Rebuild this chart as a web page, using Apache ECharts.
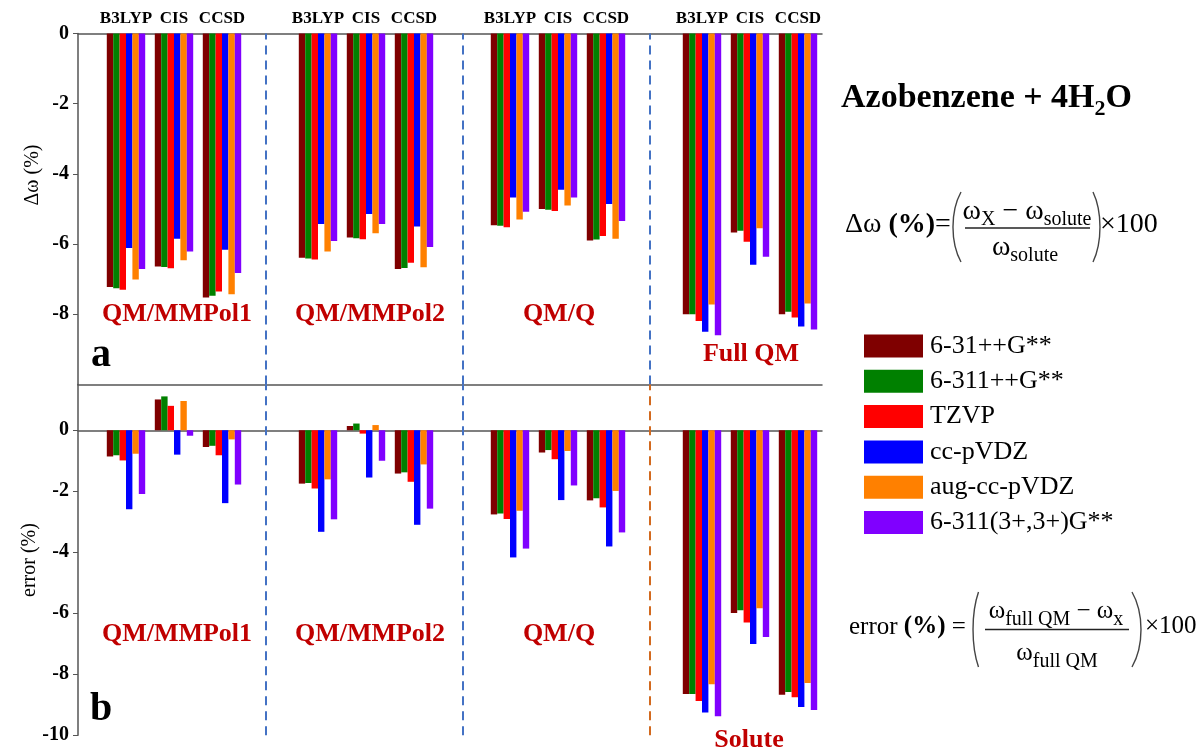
<!DOCTYPE html>
<html>
<head>
<meta charset="utf-8">
<script src="https://cdn.jsdelivr.net/npm/echarts@6/dist/echarts.min.js"></script>
<style>
  html, body { margin: 0; padding: 0; background: #ffffff; }
  #chart { width: 1201px; height: 750px; }
</style>
</head>
<body>
<div id="chart"></div>
<script>
// Basis sets (legend) and their colours
const basisSets = ['6-31++G**', '6-311++G**', 'TZVP', 'cc-pVDZ', 'aug-cc-pVDZ', '6-311(3+,3+)G**'];
const basisColors = ['#7F0000', '#008000', '#FF0000', '#0000FF', '#FF8000', '#8000FF'];

// Electronic-structure methods inside each solvation-model block
const methods = ['B3LYP', 'CIS', 'CCSD'];
const modelsTop = ['QM/MMPol1', 'QM/MMPol2', 'QM/Q', 'Full QM'];
const modelsBottom = ['QM/MMPol1', 'QM/MMPol2', 'QM/Q', 'Solute'];

// Panel a: frequency shift Δω (%) — order: [model][method] flattened
const shift_631 = [-7.22, -6.64, -7.52, -6.39, -5.81, -6.71, -5.46, -5.00, -5.90, -8.00, -5.67, -8.00];
const shift_6311 = [-7.26, -6.65, -7.47, -6.41, -5.83, -6.68, -5.48, -5.02, -5.87, -8.00, -5.62, -7.93];
const shift_TZVP = [-7.30, -6.69, -7.35, -6.44, -5.86, -6.53, -5.52, -5.06, -5.77, -8.19, -5.93, -8.09];
const shift_ccpVDZ = [-6.11, -5.85, -6.16, -5.43, -5.14, -5.50, -4.67, -4.45, -4.86, -8.50, -6.59, -8.35];
const shift_augccpVDZ = [-7.01, -6.46, -7.43, -6.21, -5.69, -6.66, -5.30, -4.90, -5.85, -7.72, -5.55, -7.69];
const shift_6311_3p = [-6.71, -6.21, -6.82, -5.91, -5.43, -6.08, -5.08, -4.67, -5.34, -8.60, -6.36, -8.43];

// Panel b: error (%) with respect to the full QM result
const error_631 = [-0.86, 1.01, -0.55, -1.75, 0.14, -1.42, -2.76, -0.73, -2.30, -8.65, -5.99, -8.67];
const error_6311 = [-0.82, 1.11, -0.51, -1.73, 0.22, -1.38, -2.73, -0.65, -2.23, -8.65, -5.90, -8.58];
const error_TZVP = [-0.99, 0.80, -0.82, -1.91, -0.11, -1.69, -2.91, -0.95, -2.53, -8.88, -6.30, -8.75];
const error_ccpVDZ = [-2.59, -0.80, -2.39, -3.33, -1.55, -3.10, -4.17, -2.29, -3.81, -9.25, -7.01, -9.07];
const error_augccpVDZ = [-0.77, 0.96, -0.30, -1.61, 0.17, -1.12, -2.64, -0.68, -1.99, -8.33, -5.84, -8.29];
const error_6311_3p = [-2.09, -0.18, -1.78, -2.92, -1.00, -2.57, -3.88, -1.81, -3.35, -9.38, -6.78, -9.17];

// Axis ticks
const shiftTicks = [0, -2, -4, -6, -8];
const errorTicks = [0, -2, -4, -6, -8, -10];

// Positions of the dashed separators between model blocks (x-axis units)
const separators = [2.92, 7.01, 10.92];

const shiftSeries = [shift_631, shift_6311, shift_TZVP, shift_ccpVDZ, shift_augccpVDZ, shift_6311_3p];
const errorSeries = [error_631, error_6311, error_TZVP, error_ccpVDZ, error_augccpVDZ, error_6311_3p];

// Slot on the x axis: each model block holds 3 methods followed by one empty slot
const slots = [];
modelsTop.forEach((m, mi) => methods.forEach((_, ki) => slots.push(mi * 4 + ki)));

const SERIF = 'Liberation Serif, Times New Roman, serif';
const RED = '#C00000';
const AXIS = '#555555';

const chart = echarts.init(document.getElementById('chart'), null, { renderer: 'canvas' });

function barSeries(name, color, values, gi) {
  return {
    name: name,
    type: 'bar',
    xAxisIndex: gi === 0 ? 0 : 1,
    yAxisIndex: gi,
    barGap: '0%',
    barCategoryGap: '20%',
    itemStyle: { color: color },
    data: values.map((v, j) => [slots[j], v]),
    animation: false
  };
}

const series = [];
basisSets.forEach((b, i) => series.push(barSeries(b, basisColors[i], shiftSeries[i], 0)));
basisSets.forEach((b, i) => series.push(barSeries(b, basisColors[i], errorSeries[i], 1)));

// dashed separators between model blocks, carried by empty helper series
function separatorSeries(gi, colors) {
  return {
    name: 'separators-' + gi,
    type: 'line',
    xAxisIndex: gi === 0 ? 0 : 1,
    yAxisIndex: gi,
    data: [],
    silent: true,
    animation: false,
    markLine: {
      silent: true, symbol: ['none', 'none'], label: { show: false }, animation: false,
      data: separators.map((x, k) => ({ xAxis: x, lineStyle: { color: colors[k], type: [9, 6], width: 2 } }))
    }
  };
}
series.push(separatorSeries(0, ['#4472C4', '#4472C4', '#4472C4']));
series.push(separatorSeries(1, ['#4472C4', '#4472C4', '#D2691E']));

const yLabel = { fontFamily: SERIF, fontWeight: 'bold', fontSize: 20, color: '#000', margin: 9 };

// rich-text helpers for the formulas
function richSet(main, sub) {
  return {
    w: { fontFamily: SERIF, fontSize: main, lineHeight: main + 2, verticalAlign: 'top', color: '#000' },
    b: { fontFamily: SERIF, fontSize: main, fontWeight: 'bold', lineHeight: main + 2, verticalAlign: 'top', color: '#000' },
    s: { fontFamily: SERIF, fontSize: sub, lineHeight: sub, padding: [Math.round(main * 0.42), 0, 0, 0], verticalAlign: 'top', color: '#000' }
  };
}
function txt(x, y, text, rich, align) {
  return { type: 'text', x: x, y: y, silent: true,
    style: { text: text, rich: rich, align: align || 'center', verticalAlign: 'middle' } };
}
function plain(x, y, text, font, opts) {
  return { type: 'text', x: x, y: y, silent: true, rotation: (opts && opts.rotation) || 0,
    style: Object.assign({ text: text, font: font, fill: '#000', align: 'center', verticalAlign: 'middle' }, opts && opts.style) };
}
function paren(x0, xc, y0, y1) {
  const h = y1 - y0;
  return { type: 'bezierCurve', silent: true,
    shape: { x1: x0, y1: y0, x2: x0, y2: y1, cpx1: xc, cpy1: y0 + h * 0.28, cpx2: xc, cpy2: y1 - h * 0.28 },
    style: { stroke: '#444', lineWidth: 1.4, fill: null } };
}
function hline(x0, x1, y) {
  return { type: 'line', silent: true, shape: { x1: x0, y1: y, x2: x1, y2: y }, style: { stroke: '#222', lineWidth: 1.3 } };
}

const r1 = richSet(28, 20);
const r2 = richSet(25, 20);

const graphics = [
  // block names and panel letters
  plain(177, 314, modelsTop[0], 'bold 26px ' + SERIF, { style: { fill: RED } }),
  plain(370, 314, modelsTop[1], 'bold 26px ' + SERIF, { style: { fill: RED } }),
  plain(559, 314, modelsTop[2], 'bold 26px ' + SERIF, { style: { fill: RED } }),
  plain(751, 354, modelsTop[3], 'bold 26px ' + SERIF, { style: { fill: RED } }),
  plain(177, 634, modelsBottom[0], 'bold 26px ' + SERIF, { style: { fill: RED } }),
  plain(370, 634, modelsBottom[1], 'bold 26px ' + SERIF, { style: { fill: RED } }),
  plain(559, 634, modelsBottom[2], 'bold 26px ' + SERIF, { style: { fill: RED } }),
  plain(749, 740, modelsBottom[3], 'bold 26px ' + SERIF, { style: { fill: RED } }),
  plain(101, 356, 'a', 'bold 40px ' + SERIF),
  plain(101, 710, 'b', 'bold 40px ' + SERIF),
  // y-axis names
  plain(33, 175, 'Δω (%)', '20px ' + SERIF, { rotation: Math.PI / 2 }),
  plain(30, 560, 'error (%)', '20px ' + SERIF, { rotation: Math.PI / 2 }),
  // heading
  txt(841, 99, '{t|Azobenzene + 4H}{ts|2}{t|O}', {
    t: { fontFamily: SERIF, fontSize: 34, fontWeight: 'bold', lineHeight: 36, verticalAlign: 'top', color: '#000' },
    ts: { fontFamily: SERIF, fontSize: 22, fontWeight: 'bold', lineHeight: 22, padding: [17, 0, 0, 0], verticalAlign: 'top', color: '#000' }
  }, 'left'),
  // Δω definition
  txt(845, 226, '{w|Δω }{b|(%)}{w|=}', r1, 'left'),
  paren(961, 950.3, 192, 262),
  txt(1027, 213, '{w|ω}{s|X}{w| − ω}{s|solute}', r1),
  hline(965, 1090, 228),
  txt(1025, 249, '{w|ω}{s|solute}', r1),
  paren(1093, 1102.3, 192, 262),
  txt(1100, 226, '{w|×100}', r1, 'left'),
  // error definition
  txt(849, 628, '{w|error }{b|(%)}{w| =}', r2, 'left'),
  paren(978.5, 971.2, 592, 667),
  txt(1056, 612, '{w|ω}{s|full QM}{w| − ω}{s|x}', r2),
  hline(985, 1129, 629.5),
  txt(1057, 654, '{w|ω}{s|full QM}', r2),
  paren(1132, 1144, 592, 667),
  txt(1145, 627, '{w|×100}', r2, 'left')
];

const option = {
  backgroundColor: '#ffffff',
  animation: false,
  legend: {
    orient: 'vertical',
    left: 864,
    top: 333,
    padding: 0,
    itemWidth: 59,
    itemHeight: 23,
    itemGap: 9.3,
    icon: 'rect',
    selectedMode: false,
    data: basisSets,
    textStyle: { fontFamily: SERIF, fontSize: 26, color: '#000', lineHeight: 23, padding: [0, 0, 0, 2] }
  },
  grid: [
    { left: 78, right: 379, top: 33.5, height: 351, containLabel: false },
    { left: 78, right: 379, top: 384.5, height: 350.75, containLabel: false }
  ],
  xAxis: [
    {
      type: 'value', gridIndex: 0, position: 'top', min: -1, max: 14.5,
      axisLine: { show: true, onZero: false, lineStyle: { color: AXIS, width: 1.5 } },
      axisTick: { show: false },
      splitLine: { show: false },
      axisLabel: {
        customValues: slots,
        formatter: v => methods[Math.round(v) % 4] || '',
        fontFamily: SERIF, fontWeight: 'bold', fontSize: 17, color: '#000', margin: 6
      }
    },
    {
      type: 'value', gridIndex: 1, position: 'bottom', min: -1, max: 14.5,
      axisLine: { show: true, onZero: true, lineStyle: { color: AXIS, width: 1.5 } },
      axisTick: { show: false }, axisLabel: { show: false }, splitLine: { show: false }
    },
    {
      type: 'value', gridIndex: 1, position: 'top', min: -1, max: 14.5,
      axisLine: { show: true, onZero: false, lineStyle: { color: AXIS, width: 1.5 } },
      axisTick: { show: false }, axisLabel: { show: false }, splitLine: { show: false }
    }
  ],
  yAxis: [
    {
      type: 'value', gridIndex: 0, min: -10, max: 0,
      axisLine: { show: true, onZero: false, lineStyle: { color: AXIS, width: 1.5 } },
      axisTick: { show: true, customValues: shiftTicks, length: 5, lineStyle: { color: AXIS } },
      axisLabel: Object.assign({ customValues: shiftTicks }, yLabel),
      splitLine: { show: false }
    },
    {
      type: 'value', gridIndex: 1, min: -10, max: 1.5,
      axisLine: { show: true, onZero: false, lineStyle: { color: AXIS, width: 1.5 } },
      axisTick: { show: true, customValues: errorTicks, length: 5, lineStyle: { color: AXIS } },
      axisLabel: Object.assign({ customValues: errorTicks }, yLabel),
      splitLine: { show: false }
    }
  ],
  series: series,
  graphic: graphics
};

chart.setOption(option);
</script>
</body>
</html>
